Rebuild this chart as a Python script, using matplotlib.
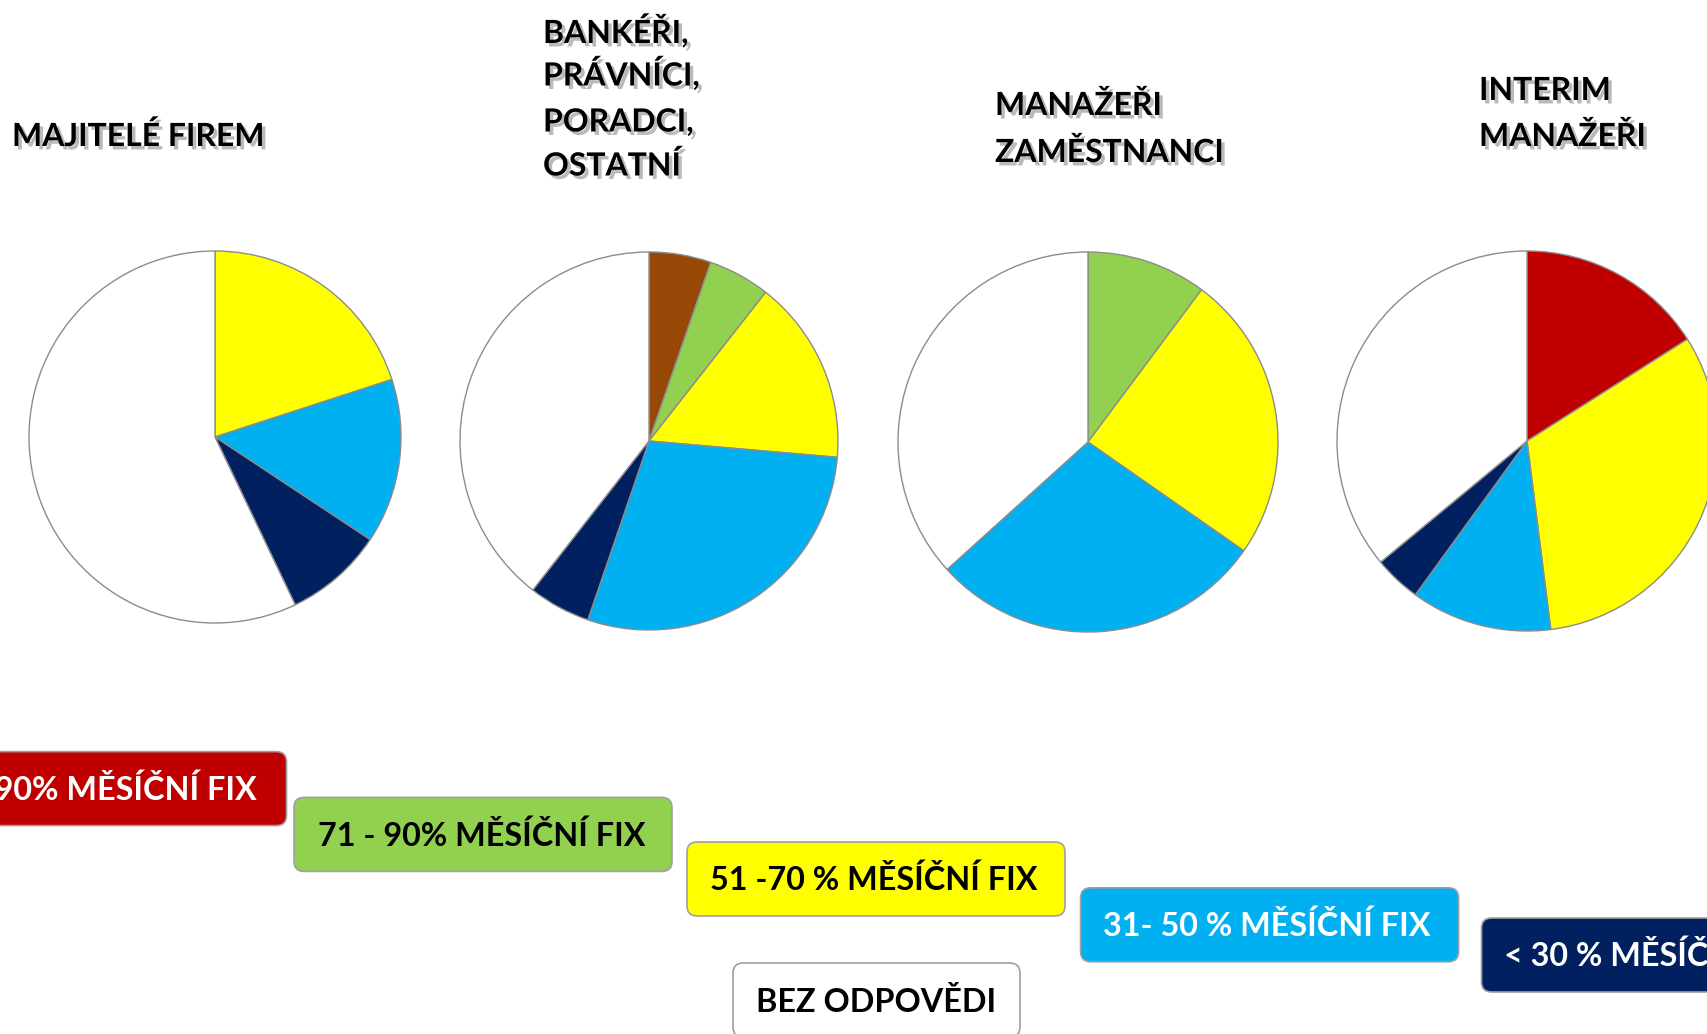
import matplotlib
matplotlib.use("Agg")
import matplotlib.pyplot as plt
import matplotlib.patheffects as pe
from matplotlib.patches import FancyBboxPatch

# ---------------- data ----------------
categories = ["> 90 %", "other", "71 - 90 %", "51 - 70 %", "31 - 50 %", "< 30 %", "bez odpovědi"]
colors = ["#C00000", "#974706", "#92D050", "#FFFF00", "#00B0F0", "#002060", "#FFFFFF"]

group_titles = [["MAJITELÉ FIREM"],
                ["BANKÉŘI,", "PRÁVNÍCI,", "PORADCI,", "OSTATNÍ"],
                ["MANAŽEŘI", "ZAMĚSTNANCI"],
                ["INTERIM", "MANAŽEŘI"]]

majitele = [0, 0, 0, 20.0, 14.3, 8.6, 57.1]
bankeri = [0, 5.3, 5.3, 15.8, 28.9, 5.3, 39.5]
manazeri = [0, 0, 10.2, 24.5, 28.6, 0, 36.7]
interim = [16.0, 0, 0, 32.0, 12.0, 4.0, 36.0]

legend_labels = ["> 90% MĚSÍČNÍ FIX", "71 - 90% MĚSÍČNÍ FIX", "51 -70 % MĚSÍČNÍ FIX",
                 "31- 50 % MĚSÍČNÍ FIX", "< 30 % MĚSÍČNÍ FIX", "BEZ ODPOVĚDI"]
legend_colors = ["#C00000", "#92D050", "#FFFF00", "#00B0F0", "#002060", "#FFFFFF"]
legend_text_colors = ["white", "black", "black", "white", "white", "black"]

# ---------------- layout ----------------
W, H = 1708, 1034
plt.rcParams['font.family'] = ['Lato', 'DejaVu Sans']
fig = plt.figure(figsize=(W / 100, H / 100), dpi=100)
fig.patch.set_facecolor("white")

bg = fig.add_axes([0, 0, 1, 1])
bg.set_xlim(0, W)
bg.set_ylim(H, 0)
bg.axis("off")

pie_geom = [(215, 437, 186), (649, 441, 189), (1088, 442, 190), (1527, 441, 190)]
series = [majitele, bankeri, manazeri, interim]

pad = 1.01
for (cx, cy, r), vals in zip(pie_geom, series):
    rr = r * pad
    ax = fig.add_axes([(cx - rr) / W, 1 - (cy + rr) / H, 2 * rr / W, 2 * rr / H])
    v = [x for x in vals if x > 0]
    c = [col for x, col in zip(vals, colors) if x > 0]
    ax.pie(v, colors=c, startangle=90, counterclock=False,
           wedgeprops=dict(edgecolor="#8c8c8c", linewidth=1.0))
    ax.set_xlim(-pad, pad)
    ax.set_ylim(-pad, pad)
    ax.set_aspect("equal")
    ax.axis("off")

shadow = [pe.SimplePatchShadow(offset=(2.5, -2.5), shadow_rgbFace="#777777", alpha=0.5), pe.Normal()]
title_x = [12, 543, 995, 1479]
title_baselines = [[146], [43, 85.5, 131.5, 175.5], [115, 162], [100, 146]]
for x, bls, lines in zip(title_x, title_baselines, group_titles):
    for y, t in zip(bls, lines):
        bg.text(x, y, t, ha="left", va="baseline", fontsize=23, fontweight="bold",
                color="black", path_effects=shadow)

# legend boxes
box_h = 74
box_pos = [(-91.5, 751.6, 378), (294, 797.4, 378), (687, 842, 378),
           (1080.6, 887.8, 378), (1481.5, 918, 378), (733, 963, 287)]
text_anchor = [(257, "right"), (318, "left"), (710, "left"), (1103, "left"), (1504, "left"), (756, "left")]
for (x, y, bw), (tx, ha), lab, fc, tc in zip(box_pos, text_anchor, legend_labels,
                                             legend_colors, legend_text_colors):
    p = FancyBboxPatch((x, y), bw, box_h, boxstyle="round,pad=0,rounding_size=10",
                       facecolor=fc, edgecolor="#a0a0a0", linewidth=1.2, clip_on=False)
    bg.add_patch(p)
    bg.text(tx, y + box_h / 2 + 11.5, lab, ha=ha, va="baseline", fontsize=23.3,
            fontweight="bold", color=tc, clip_on=False)

fig.savefig("out.png", dpi=100, facecolor="white")
